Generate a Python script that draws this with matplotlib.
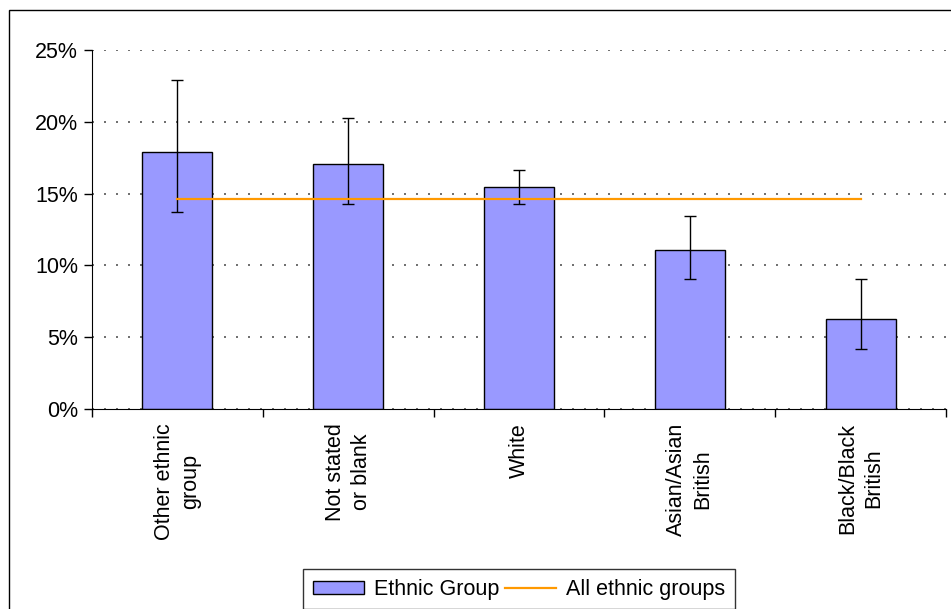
import numpy as np
import matplotlib
matplotlib.use('Agg')
import matplotlib.pyplot as plt
from matplotlib.patches import Rectangle
from matplotlib.ticker import FixedLocator, PercentFormatter

plt.rcParams['font.family'] = ['Liberation Sans', 'DejaVu Sans']
plt.rcParams['font.size'] = 15.5

categories = ['Other ethnic\ngroup', 'Not stated\nor blank', 'White',
              'Asian/Asian\nBritish', 'Black/Black\nBritish']
rates = [17.9, 17.05, 15.45, 11.1, 6.25]
err_low = [13.75, 14.3, 14.3, 9.05, 4.2]
err_high = [22.9, 20.25, 16.65, 13.45, 9.05]
all_groups = 14.65

x = np.arange(len(categories))
rates_arr = np.array(rates)
yerr = [rates_arr - np.array(err_low), np.array(err_high) - rates_arr]

fig = plt.figure(figsize=(9.51, 6.09), dpi=100)
ax = fig.add_axes([92 / 951, 1 - 409 / 609, (946 - 92) / 951, (409 - 50) / 609])

bars = ax.bar(x, rates, width=0.41, color='#9999FF', edgecolor='black', linewidth=1,
              label='Ethnic Group', zorder=2)
ax.errorbar(x, rates, yerr=yerr, fmt='none', ecolor='black', elinewidth=1,
            capsize=4.5, capthick=1, zorder=3)
line, = ax.plot(x, [all_groups] * len(x), color='#FF9900', linewidth=1.6,
                label='All ethnic groups', zorder=4)

ax.set_xlim(-0.5, len(x) - 0.5)
ax.set_ylim(0, 25)
ax.set_yticks([0, 5, 10, 15, 20, 25])
ax.yaxis.set_major_formatter(PercentFormatter(decimals=0))
ax.yaxis.grid(True, linestyle=(0, (1.2, 6)), color='#555555', linewidth=1.2)
ax.set_axisbelow(True)

# ticks sit between categories, labels at the centres
ax.xaxis.set_major_locator(FixedLocator(np.arange(-0.5, len(x), 1.0)))
ax.xaxis.set_major_formatter(plt.NullFormatter())
ax.xaxis.set_minor_locator(FixedLocator(x))
ax.set_xticklabels(categories, minor=True, rotation=90, ha='center', va='top',
                   multialignment='center', linespacing=1.3)
ax.tick_params(axis='x', which='major', length=6, width=1, direction='out')
ax.tick_params(axis='x', which='minor', length=0, pad=10)
ax.tick_params(axis='y', length=6, width=1, direction='out', pad=4)

ax.spines['top'].set_visible(False)
ax.spines['right'].set_visible(False)

leg = fig.legend([bars, line], ['Ethnic Group', 'All ethnic groups'],
                 loc='upper left', bbox_to_anchor=(303 / 951, 1 - 569 / 609),
                 ncol=2, frameon=True, fancybox=False, edgecolor='black',
                 handlelength=2.4, handleheight=0.55, handletextpad=0.45,
                 columnspacing=0.25, borderpad=0.45, borderaxespad=0)
leg.get_frame().set_linewidth(1)

fig.add_artist(Rectangle((9 / 951, -0.2), 2, 1.2 - 10 / 609,
                         transform=fig.transFigure, fill=False,
                         edgecolor='black', linewidth=1))

fig.savefig('out.png', dpi=100)
